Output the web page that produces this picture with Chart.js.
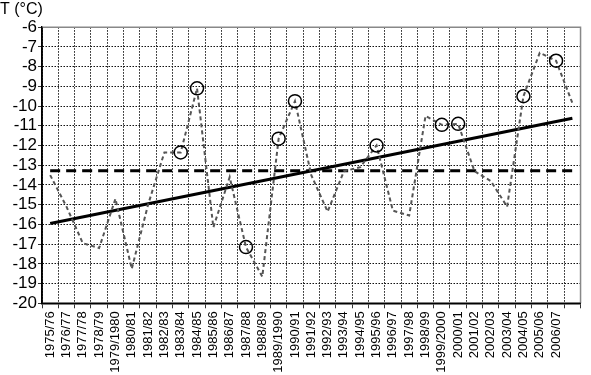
<!DOCTYPE html>
<html>
<head>
<meta charset="utf-8">
<script src="https://cdn.jsdelivr.net/npm/chart.js@4/dist/chart.umd.min.js"></script>
<style>
    body { margin: 0; background: #fff; }
    #wrap { width: 591px; height: 375px; }
</style>
</head>
<body>
<div id="wrap"><canvas id="tChart"></canvas></div>
<script>
    // winters, last season has no label on the axis
    var seasons = ["1975/76", "1976/77", "1977/78", "1978/79", "1979/1980", "1980/81", "1981/82",
        "1982/83", "1983/84", "1984/85", "1985/86", "1986/87", "1987/88", "1988/89", "1989/1990",
        "1990/91", "1991/92", "1992/93", "1993/94", "1994/95", "1995/96", "1996/97", "1997/98",
        "1998/99", "1999/2000", "2000/01", "2001/02", "2002/03", "2003/04", "2004/05", "2005/06",
        "2006/07", ""];
    var temps = [-13.5, -15.1, -16.95, -17.2, -14.7, -18.25, -15.0,
        -12.35, -12.35, -9.1, -16.15, -13.6, -17.15, -18.65, -11.65,
        -9.75, -13.5, -15.35, -13.3, -13.1, -12.0, -15.3, -15.55,
        -10.5, -10.95, -10.9, -13.3, -13.8, -15.1, -9.5, -7.3,
        -7.7, -9.85];
    var circled = ["1983/84", "1984/85", "1987/88", "1989/1990", "1990/91", "1995/96",
        "1999/2000", "2000/01", "2004/05", "2006/07"];
    var meanTemp = -13.28;
    var trendEnds = [-15.95, -10.62];
    var yTicks = [-20, -19, -18, -17, -16, -15, -14, -13, -12, -11, -10, -9, -8, -7, -6];

    var last = seasons.length - 1;
    var trendData = seasons.map(function (s, i) {
        return i === 0 ? trendEnds[0] : (i === last ? trendEnds[1] : null);
    });
    var meanData = seasons.map(function () { return meanTemp; });

    // grey frame top/right, solid axes left/bottom
    var frame = {
        id: 'frame',
        afterDraw: function (chart) {
            var a = chart.chartArea, c = chart.ctx;
            c.save();
            c.strokeStyle = '#888';
            c.lineWidth = 1.5;
            c.beginPath();
            c.moveTo(a.left, a.top);
            c.lineTo(a.right, a.top);
            c.lineTo(a.right, a.bottom);
            c.stroke();
            c.strokeStyle = '#000';
            c.beginPath();
            c.moveTo(a.left, a.top);
            c.lineTo(a.left, a.bottom);
            c.lineTo(a.right, a.bottom);
            c.stroke();
            c.restore();
        }
    };

    var ctx = document.getElementById("tChart").getContext("2d");
    new Chart(ctx, {
        type: 'line',
        data: {
            labels: seasons,
            datasets: [{
                label: 'T',
                data: temps,
                borderColor: '#555',
                borderWidth: 2,
                borderDash: [4, 3],
                tension: 0,
                pointRadius: function (c) { return circled.indexOf(seasons[c.dataIndex]) >= 0 ? 6.5 : 0; },
                pointBorderColor: '#000',
                pointBorderWidth: 1.5,
                pointBackgroundColor: 'rgba(0,0,0,0)',
                order: 1
            }, {
                label: 'mean',
                data: meanData,
                borderColor: '#000',
                borderWidth: 3,
                borderDash: [10, 6],
                pointRadius: 0,
                order: 2
            }, {
                label: 'trend',
                data: trendData,
                spanGaps: true,
                borderColor: '#000',
                borderWidth: 3,
                pointRadius: 0,
                order: 3
            }]
        },
        options: {
            responsive: true,
            maintainAspectRatio: false,
            animation: false,
            layout: { padding: { left: 0, right: 1, top: 0, bottom: 0 } },
            plugins: {
                legend: { display: false },
                tooltip: { enabled: false },
                title: {
                    display: true,
                    text: 'T (°C)',
                    align: 'start',
                    color: '#000',
                    font: { family: 'Liberation Sans, Arial', size: 16, weight: 'normal' },
                    padding: { top: 0, bottom: 8 }
                }
            },
            scales: {
                x: {
                    offset: true,
                    afterFit: function (s) { s.height = 71.7; },
                    grid: {
                        offset: true,
                        color: '#111',
                        lineWidth: 1,
                        tickLength: 5,
                        tickColor: '#333',
                        tickBorderDash: []
                    },
                    border: { color: '#000', width: 1.5, dash: [1.5, 1.5] },
                    ticks: {
                        autoSkip: false,
                        maxRotation: 90,
                        minRotation: 90,
                        padding: 3,
                        color: '#000',
                        font: { family: 'Liberation Sans, Arial', size: 13 }
                    }
                },
                y: {
                    min: -20,
                    max: -6,
                    afterFit: function (s) { s.width = 42; },
                    afterBuildTicks: function (s) {
                        s.ticks = yTicks.map(function (v) { return { value: v }; });
                    },
                    grid: {
                        color: '#111',
                        lineWidth: 1,
                        tickLength: 4,
                        tickColor: '#333',
                        tickBorderDash: []
                    },
                    border: { color: '#000', width: 1.5, dash: [1.5, 1.5] },
                    ticks: {
                        autoSkip: false,
                        stepSize: 1,
                        padding: 1,
                        color: '#000',
                        font: { family: 'Liberation Sans, Arial', size: 17 }
                    }
                }
            }
        },
        plugins: [frame]
    });
</script>
</body>
</html>
